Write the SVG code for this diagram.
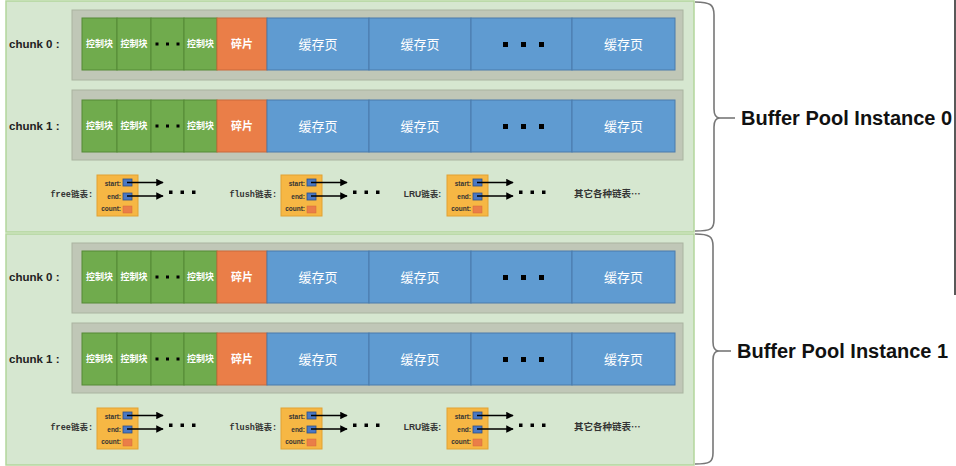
<svg xmlns="http://www.w3.org/2000/svg" width="956" height="466" viewBox="0 0 956 466">
<style>
.panel{fill:#d6e7d0;stroke:#b3d69c;stroke-width:1.5}
.frame{fill:#c0c7b7;stroke:#aab4a0;stroke-width:1}
.g{fill:#70ab4d;stroke:#548a36;stroke-width:1}
.o{fill:#ea7e48;stroke:#c9693a;stroke-width:1}
.b{fill:#5f9bd1;stroke:#4a7bab;stroke-width:1}
.ctl{font-family:"Noto Sans CJK SC","Noto Sans",sans-serif;font-size:9px;font-weight:bold;fill:#fff;text-anchor:middle}
.frag{font-family:"Noto Sans CJK SC","Noto Sans",sans-serif;font-size:11px;font-weight:bold;fill:#fff;text-anchor:middle}
.page{font-family:"Noto Sans CJK SC","Noto Sans",sans-serif;font-size:13px;fill:#fff;text-anchor:middle}
.chunk{font-family:"Liberation Sans",Arial,sans-serif;font-size:11.5px;font-weight:bold;fill:#222}
.dot{fill:#000}
.lbox{fill:#f6b744;stroke:#e1a232;stroke-width:1}
.ltxt{font-family:"Liberation Sans",Arial,sans-serif;font-size:6.5px;font-weight:bold;fill:#333;text-anchor:end}
.bsq{fill:#4a78c4;stroke:#2e4f86;stroke-width:0.8}
.osq{fill:#ea7e48;stroke:#d66a3a;stroke-width:0.5}
.lname{font-family:"Liberation Mono","Noto Sans CJK SC",monospace;font-size:8.5px;font-weight:bold;fill:#333;text-anchor:end}
.other{font-family:"Noto Sans CJK SC",sans-serif;font-size:9.5px;font-weight:bold;fill:#333}
.arr{stroke:#000;stroke-width:1.5;fill:none;marker-end:url(#ah)}
.brace{fill:none;stroke:#777;stroke-width:1.6}
.inst{font-family:"Liberation Sans",Arial,sans-serif;font-size:20px;font-weight:bold;fill:#111}
</style>
<defs>
<marker id="ah" viewBox="0 0 10 10" refX="9" refY="5" markerWidth="5" markerHeight="5" orient="auto" markerUnits="strokeWidth">
<path d="M0,0 L10,5 L0,10 z" fill="#000"/>
</marker>
</defs>
<rect width="956" height="466" fill="#fff"/>

<!-- Instance 0 -->
<g id="instance0">
<rect class="panel" x="6" y="1" width="688" height="231"/>
<g id="i0-chunk0">
<text class="chunk" x="9" y="48">chunk 0 :</text>
<rect class="frame" x="72" y="10" width="611" height="70"/>
<rect class="g" x="82" y="18" width="35" height="52"/><text class="ctl" x="99.5" y="47">控制块</text>
<rect class="g" x="117" y="18" width="34" height="52"/><text class="ctl" x="134" y="47">控制块</text>
<rect class="g" x="151" y="18" width="33" height="52"/>
<rect class="dot" x="155.5" y="42.5" width="3" height="3"/><rect class="dot" x="166" y="42.5" width="3" height="3"/><rect class="dot" x="176.5" y="42.5" width="3" height="3"/>
<rect class="g" x="184" y="18" width="33" height="52"/><text class="ctl" x="200.5" y="47">控制块</text>
<rect class="o" x="217" y="18" width="50" height="52"/><text class="frag" x="242" y="48">碎片</text>
<rect class="b" x="267" y="18" width="102" height="52"/><text class="page" x="318" y="49">缓存页</text>
<rect class="b" x="369" y="18" width="102" height="52"/><text class="page" x="420" y="49">缓存页</text>
<rect class="b" x="471" y="18" width="101" height="52"/>
<rect class="dot" x="503" y="42" width="5" height="5"/><rect class="dot" x="521" y="42" width="5" height="5"/><rect class="dot" x="539" y="42" width="5" height="5"/>
<rect class="b" x="572" y="18" width="103" height="52"/><text class="page" x="623.5" y="49">缓存页</text>
</g>
<g id="i0-chunk1">
<text class="chunk" x="9" y="130">chunk 1 :</text>
<rect class="frame" x="72" y="90" width="611" height="70"/>
<rect class="g" x="82" y="100" width="35" height="52"/><text class="ctl" x="99.5" y="129">控制块</text>
<rect class="g" x="117" y="100" width="34" height="52"/><text class="ctl" x="134" y="129">控制块</text>
<rect class="g" x="151" y="100" width="33" height="52"/>
<rect class="dot" x="155.5" y="124.5" width="3" height="3"/><rect class="dot" x="166" y="124.5" width="3" height="3"/><rect class="dot" x="176.5" y="124.5" width="3" height="3"/>
<rect class="g" x="184" y="100" width="33" height="52"/><text class="ctl" x="200.5" y="129">控制块</text>
<rect class="o" x="217" y="100" width="50" height="52"/><text class="frag" x="242" y="130">碎片</text>
<rect class="b" x="267" y="100" width="102" height="52"/><text class="page" x="318" y="131">缓存页</text>
<rect class="b" x="369" y="100" width="102" height="52"/><text class="page" x="420" y="131">缓存页</text>
<rect class="b" x="471" y="100" width="101" height="52"/>
<rect class="dot" x="503" y="124" width="5" height="5"/><rect class="dot" x="521" y="124" width="5" height="5"/><rect class="dot" x="539" y="124" width="5" height="5"/>
<rect class="b" x="572" y="100" width="103" height="52"/><text class="page" x="623.5" y="131">缓存页</text>
</g>
<g id="i0-free">
<text class="lname" x="93" y="197">free链表:</text>
<rect class="lbox" x="97" y="175" width="41" height="41"/>
<text class="ltxt" x="121" y="185.5">start:</text><text class="ltxt" x="121" y="198.5">end:</text><text class="ltxt" x="121" y="211">count:</text>
<rect class="bsq" x="123" y="179" width="9" height="7"/><rect class="bsq" x="123" y="193" width="9" height="7"/><rect class="osq" x="123" y="206" width="9" height="7"/>
<rect class="dot" x="169" y="190.5" width="3.5" height="3.5"/><rect class="dot" x="180.5" y="190.5" width="3.5" height="3.5"/><rect class="dot" x="192" y="190.5" width="3.5" height="3.5"/>
</g>
<g id="i0-flush">
<text class="lname" x="277" y="197">flush链表:</text>
<rect class="lbox" x="281" y="175" width="41" height="41"/>
<text class="ltxt" x="305" y="185.5">start:</text><text class="ltxt" x="305" y="198.5">end:</text><text class="ltxt" x="305" y="211">count:</text>
<rect class="bsq" x="307" y="179" width="9" height="7"/><rect class="bsq" x="307" y="193" width="9" height="7"/><rect class="osq" x="307" y="206" width="9" height="7"/>
<rect class="dot" x="353" y="190.5" width="3.5" height="3.5"/><rect class="dot" x="364.5" y="190.5" width="3.5" height="3.5"/><rect class="dot" x="376" y="190.5" width="3.5" height="3.5"/>
</g>
<g id="i0-lru">
<text class="lname" x="441" y="197" style="font-family:'Liberation Sans','Noto Sans CJK SC',sans-serif">LRU链表:</text>
<rect class="lbox" x="447" y="175" width="41" height="41"/>
<text class="ltxt" x="471" y="185.5">start:</text><text class="ltxt" x="471" y="198.5">end:</text><text class="ltxt" x="471" y="211">count:</text>
<rect class="bsq" x="473" y="179" width="9" height="7"/><rect class="bsq" x="473" y="193" width="9" height="7"/><rect class="osq" x="473" y="206" width="9" height="7"/>
<rect class="dot" x="519" y="190.5" width="3.5" height="3.5"/><rect class="dot" x="530.5" y="190.5" width="3.5" height="3.5"/><rect class="dot" x="542" y="190.5" width="3.5" height="3.5"/>
</g>
<text class="other" x="574" y="197">其它各种链表…</text>
</g>

<!-- Instance 1 -->
<g id="instance1">
<rect class="panel" x="6" y="234" width="688" height="231"/>
<g id="i1-chunk0">
<text class="chunk" x="9" y="281">chunk 0 :</text>
<rect class="frame" x="72" y="243" width="611" height="70"/>
<rect class="g" x="82" y="251" width="35" height="52"/><text class="ctl" x="99.5" y="280">控制块</text>
<rect class="g" x="117" y="251" width="34" height="52"/><text class="ctl" x="134" y="280">控制块</text>
<rect class="g" x="151" y="251" width="33" height="52"/>
<rect class="dot" x="155.5" y="275.5" width="3" height="3"/><rect class="dot" x="166" y="275.5" width="3" height="3"/><rect class="dot" x="176.5" y="275.5" width="3" height="3"/>
<rect class="g" x="184" y="251" width="33" height="52"/><text class="ctl" x="200.5" y="280">控制块</text>
<rect class="o" x="217" y="251" width="50" height="52"/><text class="frag" x="242" y="281">碎片</text>
<rect class="b" x="267" y="251" width="102" height="52"/><text class="page" x="318" y="282">缓存页</text>
<rect class="b" x="369" y="251" width="102" height="52"/><text class="page" x="420" y="282">缓存页</text>
<rect class="b" x="471" y="251" width="101" height="52"/>
<rect class="dot" x="503" y="275" width="5" height="5"/><rect class="dot" x="521" y="275" width="5" height="5"/><rect class="dot" x="539" y="275" width="5" height="5"/>
<rect class="b" x="572" y="251" width="103" height="52"/><text class="page" x="623.5" y="282">缓存页</text>
</g>
<g id="i1-chunk1">
<text class="chunk" x="9" y="363">chunk 1 :</text>
<rect class="frame" x="72" y="323" width="611" height="70"/>
<rect class="g" x="82" y="333" width="35" height="52"/><text class="ctl" x="99.5" y="362">控制块</text>
<rect class="g" x="117" y="333" width="34" height="52"/><text class="ctl" x="134" y="362">控制块</text>
<rect class="g" x="151" y="333" width="33" height="52"/>
<rect class="dot" x="155.5" y="357.5" width="3" height="3"/><rect class="dot" x="166" y="357.5" width="3" height="3"/><rect class="dot" x="176.5" y="357.5" width="3" height="3"/>
<rect class="g" x="184" y="333" width="33" height="52"/><text class="ctl" x="200.5" y="362">控制块</text>
<rect class="o" x="217" y="333" width="50" height="52"/><text class="frag" x="242" y="363">碎片</text>
<rect class="b" x="267" y="333" width="102" height="52"/><text class="page" x="318" y="364">缓存页</text>
<rect class="b" x="369" y="333" width="102" height="52"/><text class="page" x="420" y="364">缓存页</text>
<rect class="b" x="471" y="333" width="101" height="52"/>
<rect class="dot" x="503" y="357" width="5" height="5"/><rect class="dot" x="521" y="357" width="5" height="5"/><rect class="dot" x="539" y="357" width="5" height="5"/>
<rect class="b" x="572" y="333" width="103" height="52"/><text class="page" x="623.5" y="364">缓存页</text>
</g>
<g id="i1-free">
<text class="lname" x="93" y="430">free链表:</text>
<rect class="lbox" x="97" y="408" width="41" height="41"/>
<text class="ltxt" x="121" y="418.5">start:</text><text class="ltxt" x="121" y="431.5">end:</text><text class="ltxt" x="121" y="444">count:</text>
<rect class="bsq" x="123" y="412" width="9" height="7"/><rect class="bsq" x="123" y="426" width="9" height="7"/><rect class="osq" x="123" y="439" width="9" height="7"/>
<rect class="dot" x="169" y="423.5" width="3.5" height="3.5"/><rect class="dot" x="180.5" y="423.5" width="3.5" height="3.5"/><rect class="dot" x="192" y="423.5" width="3.5" height="3.5"/>
</g>
<g id="i1-flush">
<text class="lname" x="277" y="430">flush链表:</text>
<rect class="lbox" x="281" y="408" width="41" height="41"/>
<text class="ltxt" x="305" y="418.5">start:</text><text class="ltxt" x="305" y="431.5">end:</text><text class="ltxt" x="305" y="444">count:</text>
<rect class="bsq" x="307" y="412" width="9" height="7"/><rect class="bsq" x="307" y="426" width="9" height="7"/><rect class="osq" x="307" y="439" width="9" height="7"/>
<rect class="dot" x="353" y="423.5" width="3.5" height="3.5"/><rect class="dot" x="364.5" y="423.5" width="3.5" height="3.5"/><rect class="dot" x="376" y="423.5" width="3.5" height="3.5"/>
</g>
<g id="i1-lru">
<text class="lname" x="441" y="430" style="font-family:'Liberation Sans','Noto Sans CJK SC',sans-serif">LRU链表:</text>
<rect class="lbox" x="447" y="408" width="41" height="41"/>
<text class="ltxt" x="471" y="418.5">start:</text><text class="ltxt" x="471" y="431.5">end:</text><text class="ltxt" x="471" y="444">count:</text>
<rect class="bsq" x="473" y="412" width="9" height="7"/><rect class="bsq" x="473" y="426" width="9" height="7"/><rect class="osq" x="473" y="439" width="9" height="7"/>
<rect class="dot" x="519" y="423.5" width="3.5" height="3.5"/><rect class="dot" x="530.5" y="423.5" width="3.5" height="3.5"/><rect class="dot" x="542" y="423.5" width="3.5" height="3.5"/>
</g>
<text class="other" x="574" y="430">其它各种链表…</text>
</g>

<!-- connectors -->
<g id="connectors">
<line class="arr" x1="127" y1="182.5" x2="163" y2="182.5"/>
<line class="arr" x1="127" y1="196" x2="163" y2="196"/>
<line class="arr" x1="311" y1="182.5" x2="347" y2="182.5"/>
<line class="arr" x1="311" y1="196" x2="347" y2="196"/>
<line class="arr" x1="477" y1="182.5" x2="513" y2="182.5"/>
<line class="arr" x1="477" y1="196" x2="513" y2="196"/>
<line class="arr" x1="127" y1="415.5" x2="163" y2="415.5"/>
<line class="arr" x1="127" y1="429" x2="163" y2="429"/>
<line class="arr" x1="311" y1="415.5" x2="347" y2="415.5"/>
<line class="arr" x1="311" y1="429" x2="347" y2="429"/>
<line class="arr" x1="477" y1="415.5" x2="513" y2="415.5"/>
<line class="arr" x1="477" y1="429" x2="513" y2="429"/>
</g>

<!-- braces and labels -->
<g id="brace0">
<path class="brace" d="M695,2 C711,2 714,5 714,15 L714,109 C714,115 716,118 720,118 C716,118 714,121 714,127 L714,220 C714,229 711,231 695,231"/>
<line class="brace" x1="720" y1="118" x2="735" y2="118"/>
<text class="inst" x="741" y="125">Buffer Pool Instance 0</text>
</g>
<g id="brace1">
<path class="brace" d="M695,234 C710,234 713,237 713,246 L713,342 C713,348 715,351 719,351 C715,351 713,354 713,360 L713,453 C713,462 710,464 695,464"/>
<line class="brace" x1="719" y1="351" x2="731" y2="351"/>
<text class="inst" x="737" y="358">Buffer Pool Instance 1</text>
</g>
<line x1="955" y1="0" x2="955" y2="295" stroke="#222" stroke-width="1.5"/>
</svg>
